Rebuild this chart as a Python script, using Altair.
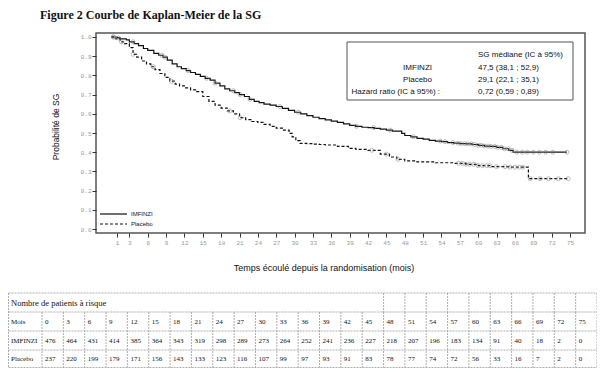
import altair as alt
import pandas as pd

# ---- Kaplan-Meier curves ----
imf_t = [0, 1, 1.5, 2.5, 3, 3.8, 4.5, 5.3, 6, 7, 7.8, 8.5, 9.2, 10, 10.8, 11.5, 12.3, 13, 13.8, 14.6,
         15.4, 16.2, 17, 17.8, 18.6, 19.4, 20.2, 21, 21.8, 22.6, 23.4, 24.2, 25, 26, 27, 28, 29, 30, 31,
         32, 33, 34, 35, 36, 37, 38, 39, 40, 41, 42, 43, 44, 45, 46, 47.5, 48, 49, 50, 51, 52, 53, 54,
         55, 56, 57, 58, 59, 60, 61, 62, 63, 64, 65, 65.7, 74.5]
imf_s = [1.0, 0.995, 0.99, 0.985, 0.975, 0.965, 0.955, 0.94, 0.93, 0.915, 0.905, 0.895, 0.88, 0.86, 0.845,
         0.835, 0.825, 0.815, 0.805, 0.795, 0.785, 0.775, 0.76, 0.745, 0.73, 0.72, 0.71, 0.70, 0.69, 0.675,
         0.665, 0.658, 0.65, 0.645, 0.638, 0.628, 0.618, 0.608, 0.60, 0.59, 0.582, 0.575, 0.568, 0.562,
         0.555, 0.548, 0.54, 0.535, 0.53, 0.528, 0.524, 0.52, 0.515, 0.51, 0.498, 0.487, 0.48, 0.472, 0.468,
         0.462, 0.458, 0.455, 0.45, 0.447, 0.445, 0.443, 0.44, 0.436, 0.432, 0.43, 0.425, 0.418, 0.41,
         0.40, 0.40]
plc_t = [0, 0.8, 1.5, 2.2, 3, 3.6, 4.2, 5, 5.8, 6.5, 7.2, 8, 8.8, 9.6, 10.5, 11.2, 12, 13, 14, 15, 16,
         17, 18, 19, 20, 21, 22, 23, 24, 25, 26, 27, 28, 29.1, 29.6, 30.2, 30.9, 32, 33, 34, 35, 37,
         38.8, 40, 42, 44, 45.5, 46.7, 48, 50, 53, 56, 58, 60, 62, 65, 68.2, 74.7]
plc_s = [1.0, 0.99, 0.975, 0.965, 0.945, 0.91, 0.895, 0.875, 0.86, 0.845, 0.83, 0.81, 0.79, 0.77, 0.755,
         0.745, 0.735, 0.725, 0.715, 0.69, 0.665, 0.645, 0.63, 0.615, 0.60, 0.58, 0.57, 0.56, 0.555, 0.545,
         0.535, 0.525, 0.515, 0.498, 0.48, 0.46, 0.446, 0.445, 0.442, 0.44, 0.4375, 0.43, 0.42, 0.415,
         0.41, 0.39, 0.375, 0.363, 0.355, 0.35, 0.345, 0.342, 0.337, 0.33, 0.325, 0.322, 0.262, 0.262]

imf_cens = [0.4, 1.2, 3.6, 8.3, 8.8, 12.6, 15.6, 17.0, 20.0, 21.1, 22.7, 27.6, 30.6, 40.1, 42.9, 45.6,
            49.4, 53.8, 54.6, 55.9, 56.7, 57.2, 57.8, 58.3, 58.9, 59.4, 60.0, 60.5, 61.0, 61.6, 62.1,
            62.7, 63.2, 63.8, 64.3, 64.9, 65.5, 66.3, 67.2, 68.0, 69.0, 70.0, 71.0, 72.2, 74.5]
plc_cens = [0.4, 1.7, 3.6, 6.9, 9.9, 19.4, 21.1, 42.6, 45.0, 46.9, 56.8, 57.4, 58.0, 58.6, 59.3, 60.0,
            60.7, 61.4, 61.9, 63.0, 64.4, 65.2, 66.0, 66.7, 67.3, 68.5, 70.1, 71.5, 73.1, 74.7]

# ---- Number at risk table ----
months = [0, 3, 6, 9, 12, 15, 18, 21, 24, 27, 30, 33, 36, 39, 42, 45, 48, 51, 54, 57, 60, 63, 66, 69, 72, 75]
imf_risk = [476, 464, 431, 414, 385, 364, 343, 319, 298, 289, 273, 264, 252, 241, 236, 227, 218, 207,
            196, 183, 134, 91, 40, 18, 2, 0]
plc_risk = [237, 220, 199, 179, 171, 156, 143, 133, 123, 116, 107, 99, 97, 93, 91, 83, 78, 77, 74, 72,
            56, 33, 16, 7, 2, 0]

x_ticks = [1, 3, 6, 9, 12, 15, 18, 21, 24, 27, 30, 33, 36, 39, 42, 45, 48, 51, 54, 57, 60, 63, 66, 69, 72, 75]
y_ticks = [0.0, 0.1, 0.2, 0.3, 0.4, 0.5, 0.6, 0.7, 0.8, 0.9, 1.0]


def surv_at(ts, ss, t):
    v = ss[0]
    for a, b in zip(ts, ss):
        if a <= t:
            v = b
    return v


curve_df = pd.DataFrame(
    {"t": imf_t + plc_t, "s": imf_s + plc_s,
     "arm": ["IMFINZI"] * len(imf_t) + ["Placebo"] * len(plc_t)})
cens_df = pd.DataFrame(
    {"t": imf_cens + plc_cens,
     "s": [surv_at(imf_t, imf_s, t) for t in imf_cens] + [surv_at(plc_t, plc_s, t) for t in plc_cens],
     "arm": ["IMFINZI"] * len(imf_cens) + ["Placebo"] * len(plc_cens)})

mono = "Liberation Mono"
sans = "Liberation Sans"
serif = "Liberation Serif"

x_enc = alt.X("t:Q", scale=alt.Scale(domain=[-2.45, 77.45], nice=False, zero=False),
              axis=alt.Axis(values=x_ticks, title=None, domain=False, grid=False, tickSize=4,
                            tickColor="#333", labelFont=mono, labelFontSize=6, labelColor="#999",
                            labelPadding=2))
y_enc = alt.Y("s:Q", scale=alt.Scale(domain=[-0.0208, 1.0208], nice=False, zero=False),
              axis=alt.Axis(values=y_ticks, format=".1f", title=None, domain=False, grid=False,
                            tickSize=4, tickColor="#333", labelFont=mono, labelFontSize=6,
                            labelColor="#999", labelPadding=1))

lines = alt.Chart(curve_df).mark_line(interpolate="step-after", strokeWidth=1.2, color="#111").encode(
    x=x_enc, y=y_enc,
    strokeDash=alt.StrokeDash("arm:N", scale=alt.Scale(domain=["IMFINZI", "Placebo"], range=[[1, 0], [3, 2]]),
                              legend=None),
    detail="arm:N")
cens = alt.Chart(cens_df).mark_point(shape="circle", size=16, filled=False, color="#888",
                                     strokeWidth=0.8).encode(x=x_enc, y=y_enc)

one = pd.DataFrame({"a": [0]})


def txt(text, x, y, size=8, font=sans, align="left", weight="normal", angle=0, color="#111"):
    return alt.Chart(one).mark_text(text=text, align=align, baseline="middle", fontSize=size, font=font,
                                    fontWeight=weight, angle=angle, color=color).encode(
        x=alt.value(x), y=alt.value(y))


def hrule(x1, x2, y, color="#111", width=1.0, dash=None):
    kw = {"color": color, "strokeWidth": width}
    if dash:
        kw["strokeDash"] = dash
    return alt.Chart(one).mark_rule(**kw).encode(x=alt.value(x1), x2=alt.value(x2), y=alt.value(y))


def vrule(x, y1, y2, color="#111", width=1.0, dash=None):
    kw = {"color": color, "strokeWidth": width}
    if dash:
        kw["strokeDash"] = dash
    return alt.Chart(one).mark_rule(**kw).encode(x=alt.value(x), y=alt.value(y1), y2=alt.value(y2))


stat_box = alt.Chart(one).mark_rect(fill="white", stroke="#555", strokeWidth=1).encode(
    x=alt.value(251), x2=alt.value(477), y=alt.value(9), y2=alt.value(67))

km_layers = [
    lines, cens,
    txt("Figure 2 Courbe de Kaplan-Meier de la SG", -56, -18, size=12, font=serif, weight="bold"),
    txt("Probabilité de SG", -40, 94, size=8.5, align="center", angle=270),
    txt("Temps écoulé depuis la randomisation (mois)", 228, 235, size=9, align="center"),
    hrule(4, 31, 181, width=1.2),
    hrule(4, 31, 191, width=1.2, dash=[3, 2]),
    txt("IMFINZI", 35, 181, size=6),
    txt("Placebo", 35, 191, size=6),
    stat_box,
    txt("SG médiane (IC à 95%)", 382, 22, size=8),
    txt("IMFINZI", 336, 35, size=8, align="right"),
    txt("Placebo", 336, 47, size=8, align="right"),
    txt("Hazard ratio (IC à 95%) :", 344, 59, size=8, align="right"),
    txt("47,5 (38,1 ; 52,9)", 382, 35, size=8),
    txt("29,1 (22,1 ; 35,1)", 382, 47, size=8),
    txt("0,72 (0,59 ; 0,89)", 382, 59, size=8),
]
km = alt.layer(*km_layers)

# ---- table ----
month_lbl = [str(m) for m in months]
tab_df = pd.DataFrame({"col": month_lbl, "mois": month_lbl,
                       "imf": [str(v) for v in imf_risk], "plc": [str(v) for v in plc_risk],
                       "m": months})
band = alt.Scale(type="band", domain=month_lbl, range=[-54, 501], paddingInner=0, paddingOuter=0)
tx = alt.X("col:O", scale=band, axis=None, bandPosition=0)

grid_col = "#999"
gdash = [2, 1]
rows_y = [260, 279, 298, 317, 334.5]
row_text_y = [269.5, 288.5, 307.5, 326]

table_layers = []
for y in rows_y:
    table_layers.append(hrule(-87.5, 501, y, color=grid_col, width=0.8, dash=gdash))
table_layers.append(vrule(-87.5, 260, 334.5, color=grid_col, width=0.8, dash=gdash))
table_layers.append(vrule(501, 260, 334.5, color=grid_col, width=0.8, dash=gdash))
table_layers.append(alt.Chart(tab_df).mark_rule(color=grid_col, strokeWidth=0.8, strokeDash=gdash).encode(
    x=tx, y=alt.value(279), y2=alt.value(334.5)))
table_layers.append(alt.Chart(tab_df).transform_filter("datum.m >= 48").mark_rule(
    color=grid_col, strokeWidth=0.8, strokeDash=gdash).encode(x=tx, y=alt.value(260), y2=alt.value(279)))

table_layers.append(txt("Nombre de patients à risque", -85, row_text_y[0], size=8.5, font=serif))
for lbl, field, y in [("Mois", "mois", row_text_y[1]), ("IMFINZI", "imf", row_text_y[2]),
                      ("Placebo", "plc", row_text_y[3])]:
    table_layers.append(txt(lbl, -85, y, size=7, font=serif))
    table_layers.append(alt.Chart(tab_df).mark_text(align="left", baseline="middle", dx=3, fontSize=7,
                                                    font=serif, color="#111").encode(
        x=tx, y=alt.value(y), text=f"{field}:N"))
table = alt.layer(*table_layers)

chart = alt.layer(km, table).resolve_scale(x="independent").properties(
    width=489, height=200,
    autosize=alt.AutoSizeParams(type="none"),
    padding={"left": 88, "top": 25, "right": 12, "bottom": 135},
    background="white",
).configure_view(stroke="#555", strokeWidth=1.5)

chart.save("out.html", embed_options={"renderer": "svg", "actions": False})
